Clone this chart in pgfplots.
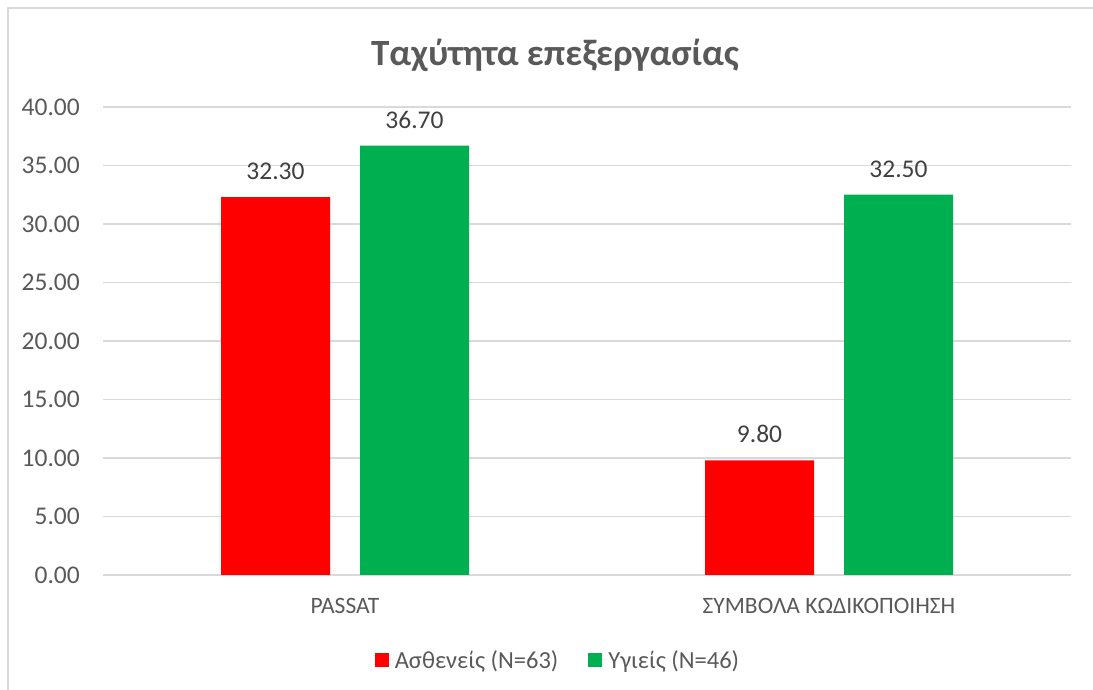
\documentclass[border=0pt]{standalone}
\usepackage{fontspec}
\setmainfont{Carlito}
\usepackage{pgfplots}
\pgfplotsset{compat=1.18}
\definecolor{gridgray}{HTML}{D9D9D9}
\definecolor{txtgray}{HTML}{595959}
\definecolor{lblgray}{HTML}{404040}
\definecolor{barred}{HTML}{FF0000}
\definecolor{bargreen}{HTML}{00B050}

\begin{document}
\begin{tikzpicture}[x=1pt,y=1pt]
\path[use as bounding box] (0,0) rectangle (1093,690);
\draw[gridgray, line width=2pt] (8,-5) -- (8,682) -- (1100,682);
\node[font=\fontsize{37}{42}\selectfont\bfseries, text=txtgray] at (555,635) {Ταχύτητα επεξεργασίας};
\begin{axis}[
    at={(103pt,115pt)}, anchor=south west,
    scale only axis, width=968pt, height=468pt,
    xmin=-0.5, xmax=1.5, ymin=0, ymax=40,
    xtick={0,1}, xticklabels={PASSAT, ΣΥΜΒΟΛΑ ΚΩΔΙΚΟΠΟΙΗΣΗ},
    ytick={0,5,...,40},
    /pgf/number format/assume math mode=true,
    yticklabel={\pgfmathprintnumber[fixed,fixed zerofill,precision=2]{\tick}},
    major tick length=0pt,
    axis x line*=bottom, axis y line*=left,
    axis line style={-},
    x axis line style={gridgray, line width=1.3pt},
    y axis line style={draw=none},
    ymajorgrids, major grid style={gridgray, line width=1.3pt},
    ticklabel style={font=\fontsize{23.5}{28}\selectfont, text=txtgray, inner sep=0pt},
    yticklabel style={xshift=-23pt, font=\fontsize{25.5}{30}\selectfont},
    xticklabel style={yshift=-23pt},
    ybar, bar width=109pt,
    nodes near coords={\pgfmathprintnumber[fixed,fixed zerofill,precision=2]{\pgfplotspointmeta}},
    every node near coord/.append style={font=\fontsize{25.5}{30}\selectfont, text=lblgray, inner sep=0pt, anchor=south, yshift=17pt},
    legend columns=2,
    legend style={at={(0.470,-0.1816)}, anchor=center, draw=none, fill=none,
        font=\fontsize{24.5}{29}\selectfont, text=txtgray,
        /tikz/every even column/.append style={column sep=28pt}},
    legend image code/.code={\fill[#1] (0pt,-7pt) rectangle (14pt,7pt); \path (0pt,0pt) -- (18pt,0pt);},
]
\addplot[fill=barred, draw=none, bar shift=-69.5pt] coordinates {(0,32.3) (1,9.8)};
\addlegendentry{Ασθενείς (N=63)}
\addplot[fill=bargreen, draw=none, bar shift=69.5pt] coordinates {(0,36.7) (1,32.5)};
\addlegendentry{Υγιείς (N=46)}
\end{axis}
\end{tikzpicture}
\end{document}
